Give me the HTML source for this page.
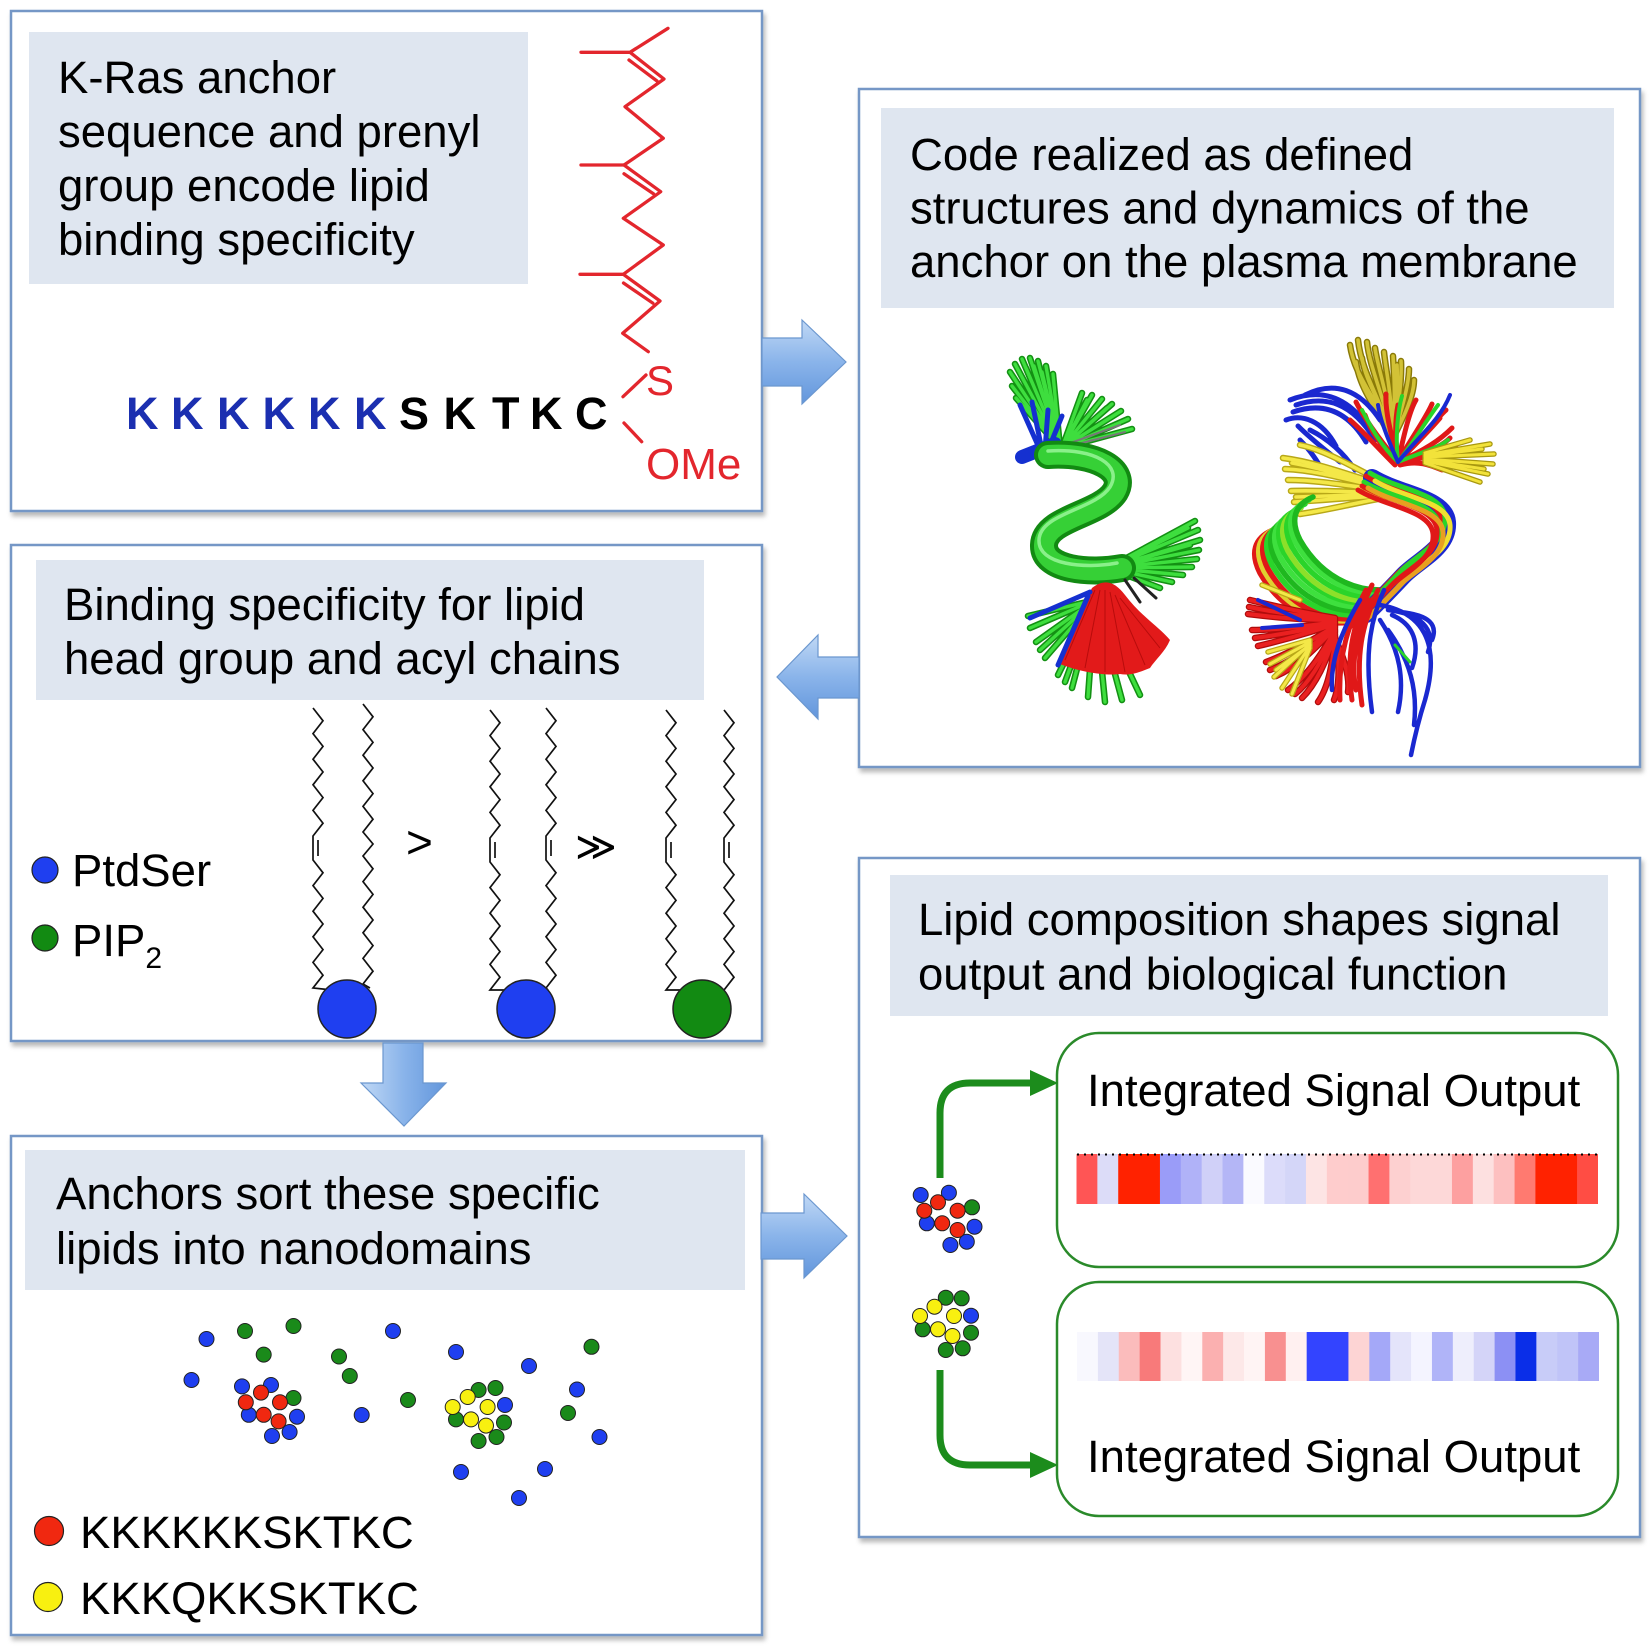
<!DOCTYPE html>
<html><head><meta charset="utf-8">
<style>
html,body{margin:0;padding:0;background:#fff;width:1649px;height:1649px;overflow:hidden;}
svg{display:block;}
text{font-family:"Liberation Sans",Arial,sans-serif;}
</style></head><body>
<svg width="1649" height="1649" viewBox="0 0 1649 1649" xmlns="http://www.w3.org/2000/svg">
<defs>
<filter id="sh" x="-5%" y="-5%" width="110%" height="110%"><feDropShadow dx="2" dy="4" stdDeviation="2.5" flood-color="#000" flood-opacity="0.28"/></filter>
<linearGradient id="ga" x1="0" y1="0" x2="0" y2="1"><stop offset="0" stop-color="#c0d8f5"/><stop offset="0.5" stop-color="#8ab4ea"/><stop offset="1" stop-color="#6296dc"/></linearGradient>
<linearGradient id="gd" x1="0" y1="0" x2="1" y2="0"><stop offset="0" stop-color="#c0d8f5"/><stop offset="0.5" stop-color="#8ab4ea"/><stop offset="1" stop-color="#6296dc"/></linearGradient>
</defs>

<!-- Boxes -->
<g fill="#fff" stroke="#7497c6" stroke-width="2.5" filter="url(#sh)">
<rect x="11" y="11" width="751" height="500"/>
<rect x="859" y="89" width="781" height="678"/>
<rect x="11" y="545" width="751" height="496"/>
<rect x="11" y="1136" width="751" height="499"/>
<rect x="859" y="858" width="781" height="679"/>
</g>

<!-- Title backgrounds -->
<g fill="#dfe6f0">
<rect x="29" y="32" width="499" height="252"/>
<rect x="881" y="108" width="733" height="200"/>
<rect x="36" y="560" width="668" height="140"/>
<rect x="25" y="1150" width="720" height="140"/>
<rect x="890" y="875" width="718" height="141"/>
</g>

<!-- Arrows -->
<g fill="url(#ga)" stroke="#6b97cf" stroke-width="1.2">
<path d="M762,338 L802,338 L802,320 L846,362 L802,404 L802,386 L762,386 Z"/>
<path d="M859,657 L818,657 L818,635 L777,677 L818,719 L818,698 L859,698 Z"/>
<path d="M761,1213 L804,1213 L804,1194 L847,1236 L804,1278 L804,1259 L761,1259 Z"/>
</g>
<path d="M383,1043 L423,1043 L423,1083 L446,1083 L404,1126 L361,1083 L383,1083 Z" fill="url(#gd)" stroke="#6b97cf" stroke-width="1.2"/>

<!-- Titles -->
<g font-size="45.5" fill="#000">
<text x="58" y="93">K-Ras anchor</text>
<text x="58" y="147">sequence and prenyl</text>
<text x="58" y="201">group encode lipid</text>
<text x="58" y="255">binding specificity</text>

<text x="910" y="170">Code realized as defined</text>
<text x="910" y="223.5">structures and dynamics of the</text>
<text x="910" y="277">anchor on the plasma membrane</text>

<text x="64" y="620">Binding specificity for lipid</text>
<text x="64" y="674">head group and acyl chains</text>

<text x="56" y="1209">Anchors sort these specific</text>
<text x="56" y="1264">lipids into nanodomains</text>

<text x="918" y="935">Lipid composition shapes signal</text>
<text x="918" y="989.5">output and biological function</text>
</g>

<!-- Prenyl chain -->
<g stroke="#e3262d" stroke-width="3.3" fill="none" stroke-linecap="round" stroke-linejoin="round">
<path d="M581,52.3 L630,52.3 L668,28.3 M630,52.3 L664,79 L625,106.7 L663.3,138.3 L624,165 L660.7,191.7 L623.3,218.3 L663.3,245 L623.3,274.3 L660,301 L622.7,333.3 L648.3,351.7"/>
<path d="M581,165 L624,165 M580,274.3 L623.3,274.3"/>
<path d="M629,60 L657,81 M624,173.8 L653.6,193.9 M623.5,283 L652.9,303.2"/>
<path d="M646,375 L623,396.7 M624,423 L641.7,441.7"/>
</g>
<text x="646" y="395" font-size="42" fill="#e3262d">S</text>
<text x="646" y="479" font-size="44" fill="#e3262d">OMe</text>

<!-- Sequence -->
<g font-size="45" font-weight="bold">
<g fill="#1b2fb0">
<text x="126" y="429">K</text><text x="171" y="429">K</text><text x="217" y="429">K</text><text x="262.5" y="429">K</text><text x="308" y="429">K</text><text x="354" y="429">K</text>
</g>
<g fill="#000">
<text x="399" y="429">S</text><text x="443.5" y="429">K</text><text x="492" y="429">T</text><text x="530" y="429">K</text><text x="575" y="429">C</text>
</g>
</g>

<!-- Lipid chains -->
<g stroke="#111" stroke-width="1.7" fill="none" stroke-linejoin="miter">
<path d="M313,708 l10,12.8 l-10,12.8 l10,12.8 l-10,12.8 l10,12.8 l-10,12.8 l10,12.8 l-10,12.8 l10,12.8 l-10,12.8 l0,24 l10,12.8 l-10,12.8 l10,12.8 l-10,12.8 l10,12.8 l-10,12.8 l10,12.8 l-10,12.8 l10,12.8 l-10,12.8 L332,990 M318,840 l0,16"/>
<path d="M363,704 l10,12.8 l-10,12.8 l10,12.8 l-10,12.8 l10,12.8 l-10,12.8 l10,12.8 l-10,12.8 l10,12.8 l-10,12.8 l10,12 l-10,12 l10,12.8 l-10,12.8 l10,12.8 l-10,12.8 l10,12.8 l-10,12.8 l10,12.8 l-10,12.8 l10,12.8 l-10,12.8 L370,988"/>
<path d="M490,710 l10,12.8 l-10,12.8 l10,12.8 l-10,12.8 l10,12.8 l-10,12.8 l10,12.8 l-10,12.8 l10,12.8 l-10,12.8 l0,24 l10,12.8 l-10,12.8 l10,12.8 l-10,12.8 l10,12.8 l-10,12.8 l10,12.8 l-10,12.8 l10,12.8 l-10,12.8 L510,990 M495,842 l0,16"/>
<path d="M546,708 l10,12.8 l-10,12.8 l10,12.8 l-10,12.8 l10,12.8 l-10,12.8 l10,12.8 l-10,12.8 l10,12.8 l-10,12.8 l0,24 l10,12.8 l-10,12.8 l10,12.8 l-10,12.8 l10,12.8 l-10,12.8 l10,12.8 l-10,12.8 l10,12.8 l-10,12.8 L548,990 M551,840 l0,16"/>
<path d="M666,710 l10,12.8 l-10,12.8 l10,12.8 l-10,12.8 l10,12.8 l-10,12.8 l10,12.8 l-10,12.8 l10,12.8 l-10,12.8 l0,24 l10,12.8 l-10,12.8 l10,12.8 l-10,12.8 l10,12.8 l-10,12.8 l10,12.8 l-10,12.8 l10,12.8 l-10,12.8 L684,990 M671,842 l0,16"/>
<path d="M724,710 l10,12.8 l-10,12.8 l10,12.8 l-10,12.8 l10,12.8 l-10,12.8 l10,12.8 l-10,12.8 l10,12.8 l-10,12.8 l0,24 l10,12.8 l-10,12.8 l10,12.8 l-10,12.8 l10,12.8 l-10,12.8 l10,12.8 l-10,12.8 l10,12.8 l-10,12.8 L722,990 M729,842 l0,16"/>
</g>
<g stroke="#222" stroke-width="1.5">
<circle cx="347" cy="1009" r="29" fill="#1f3ff0"/>
<circle cx="526" cy="1009" r="29" fill="#1f3ff0"/>
<circle cx="702" cy="1009" r="29" fill="#128a12"/>
</g>
<text x="406" y="858" font-size="46">&gt;</text>
<text x="575" y="860" font-size="40" font-family="DejaVu Sans, sans-serif">≫</text>

<!-- Legend box 3 -->
<circle cx="45" cy="870" r="13" fill="#1f3ff0" stroke="#222" stroke-width="1.2"/>
<circle cx="45" cy="938" r="13" fill="#128a12" stroke="#222" stroke-width="1.2"/>
<text x="72" y="886" font-size="45.5">PtdSer</text>
<text x="72" y="956" font-size="45.5">PIP<tspan font-size="30" dy="12">2</tspan></text>

<!-- Box 4 dots -->
<g stroke="#222" stroke-width="1">
<g fill="#1f3ff0">
<circle cx="206.5" cy="1339" r="7.5"/><circle cx="191.5" cy="1380" r="7.5"/><circle cx="393" cy="1331" r="7.5"/><circle cx="361.7" cy="1415" r="7.5"/><circle cx="456" cy="1352" r="7.5"/><circle cx="529" cy="1366" r="7.5"/><circle cx="577" cy="1389.5" r="7.5"/><circle cx="599.5" cy="1437" r="7.5"/><circle cx="461" cy="1472" r="7.5"/><circle cx="545" cy="1469" r="7.5"/><circle cx="519" cy="1498" r="7.5"/>
<circle cx="242" cy="1386.4" r="7.5"/><circle cx="271" cy="1385" r="7.5"/><circle cx="248.8" cy="1414.8" r="7.5"/><circle cx="297" cy="1416.7" r="7.5"/><circle cx="272" cy="1436" r="7.5"/><circle cx="289.6" cy="1432" r="7.5"/>
<circle cx="505" cy="1405" r="7.5"/>
</g>
<g fill="#1a8a1a">
<circle cx="245" cy="1331" r="7.5"/><circle cx="293.5" cy="1326" r="7.5"/><circle cx="263.7" cy="1354.6" r="7.5"/><circle cx="339" cy="1356.5" r="7.5"/><circle cx="349.8" cy="1376" r="7.5"/><circle cx="408" cy="1400" r="7.5"/><circle cx="591.5" cy="1346.8" r="7.5"/><circle cx="568" cy="1413" r="7.5"/>
<circle cx="293.5" cy="1398" r="7.5"/>
<circle cx="478.6" cy="1390" r="7.5"/><circle cx="495.5" cy="1388" r="7.5"/><circle cx="456" cy="1419.4" r="7.5"/><circle cx="504" cy="1422.5" r="7.5"/><circle cx="478.6" cy="1441" r="7.5"/><circle cx="496.5" cy="1437" r="7.5"/>
</g>
<g fill="#f02810">
<circle cx="261" cy="1392.6" r="7.5"/><circle cx="245.8" cy="1402.3" r="7.5"/><circle cx="280" cy="1402.3" r="7.5"/><circle cx="263.7" cy="1414.8" r="7.5"/><circle cx="278.6" cy="1421.4" r="7.5"/>
</g>
<g fill="#f8f010">
<circle cx="467.7" cy="1397" r="7.5"/><circle cx="452.7" cy="1407" r="7.5"/><circle cx="487.6" cy="1407" r="7.5"/><circle cx="471" cy="1419.4" r="7.5"/><circle cx="486" cy="1425.6" r="7.5"/>
</g>
</g>

<!-- Legend box 4 -->
<circle cx="49" cy="1531" r="14.5" fill="#f02810" stroke="#222" stroke-width="1.2"/>
<circle cx="48" cy="1597" r="14.5" fill="#f8f010" stroke="#222" stroke-width="1.2"/>
<text x="80" y="1548" font-size="45.5">KKKKKKSKTKC</text>
<text x="80" y="1614" font-size="45.5">KKKQKKSKTKC</text>

<!-- Box 5 -->
<g fill="none" stroke="#2a8a2a" stroke-width="2.5">
<rect x="1057" y="1033" width="561" height="234" rx="42"/>
<rect x="1057" y="1282" width="561" height="234" rx="42"/>
</g>
<g fill="none" stroke="#1c8c1c" stroke-width="7">
<path d="M940,1178 L940,1113 Q940,1083 970,1083 L1036,1083"/>
<path d="M940,1370 L940,1435 Q940,1465 970,1465 L1036,1465"/>
</g>
<g fill="#1c8c1c">
<polygon points="1030,1070 1058,1083 1030,1096"/>
<polygon points="1030,1452 1058,1465 1030,1478"/>
</g>
<text x="1087" y="1106" font-size="45.5">Integrated Signal Output</text>
<text x="1087" y="1472" font-size="45.5">Integrated Signal Output</text>

<!-- heatmap 1 -->
<g>
<rect x="1076.5" y="1154" width="21.2" height="50" fill="#ff5555"/>
<rect x="1097.36" y="1154" width="21.2" height="50" fill="#dcdcf8"/>
<rect x="1118.22" y="1154" width="42" height="50" fill="#ff2200"/>
<rect x="1159.94" y="1154" width="21.2" height="50" fill="#9a9cf8"/>
<rect x="1180.8" y="1154" width="21.2" height="50" fill="#b0b2f8"/>
<rect x="1201.66" y="1154" width="21.2" height="50" fill="#d0d0f8"/>
<rect x="1222.52" y="1154" width="21.2" height="50" fill="#b4b6f6"/>
<rect x="1243.38" y="1154" width="21.2" height="50" fill="#fafaff"/>
<rect x="1264.24" y="1154" width="21.2" height="50" fill="#dcdcfa"/>
<rect x="1285.1" y="1154" width="21.2" height="50" fill="#d4d6f8"/>
<rect x="1305.96" y="1154" width="21.2" height="50" fill="#fde4e4"/>
<rect x="1326.82" y="1154" width="21.2" height="50" fill="#fecccc"/>
<rect x="1347.68" y="1154" width="21.2" height="50" fill="#fdcccc"/>
<rect x="1368.54" y="1154" width="21.2" height="50" fill="#ff7070"/>
<rect x="1389.4" y="1154" width="21.2" height="50" fill="#fdd0d0"/>
<rect x="1410.26" y="1154" width="21.2" height="50" fill="#fdd8d8"/>
<rect x="1431.12" y="1154" width="21.2" height="50" fill="#fdd8d8"/>
<rect x="1451.98" y="1154" width="21.2" height="50" fill="#fda0a0"/>
<rect x="1472.84" y="1154" width="21.2" height="50" fill="#fde0e0"/>
<rect x="1493.7" y="1154" width="21.2" height="50" fill="#fdc0c0"/>
<rect x="1514.56" y="1154" width="21.2" height="50" fill="#ff7a70"/>
<rect x="1535.42" y="1154" width="42" height="50" fill="#ff2200"/>
<rect x="1577.14" y="1154" width="20.86" height="50" fill="#ff4d44"/>
</g>
<line x1="1077" y1="1154.5" x2="1597" y2="1154.5" stroke="#000" stroke-width="2" stroke-dasharray="2 5"/>

<!-- heatmap 2 -->
<g>
<rect x="1077" y="1332" width="21.2" height="49" fill="#f8f8fe"/>
<rect x="1097.88" y="1332" width="21.2" height="49" fill="#e4e4f8"/>
<rect x="1118.76" y="1332" width="21.2" height="49" fill="#fbbcbc"/>
<rect x="1139.64" y="1332" width="21.2" height="49" fill="#f87a7a"/>
<rect x="1160.52" y="1332" width="21.2" height="49" fill="#fde0e0"/>
<rect x="1181.4" y="1332" width="21.2" height="49" fill="#fff5f5"/>
<rect x="1202.28" y="1332" width="21.2" height="49" fill="#fbb0b0"/>
<rect x="1223.16" y="1332" width="21.2" height="49" fill="#fde8e8"/>
<rect x="1244.04" y="1332" width="21.2" height="49" fill="#fff4f4"/>
<rect x="1264.92" y="1332" width="21.2" height="49" fill="#f89090"/>
<rect x="1285.8" y="1332" width="21.2" height="49" fill="#fff0f0"/>
<rect x="1306.68" y="1332" width="42" height="49" fill="#3344ff"/>
<rect x="1348.44" y="1332" width="21.2" height="49" fill="#fdd4d4"/>
<rect x="1369.32" y="1332" width="21.2" height="49" fill="#a4a8f8"/>
<rect x="1390.2" y="1332" width="21.2" height="49" fill="#e4e4fa"/>
<rect x="1411.08" y="1332" width="21.2" height="49" fill="#f4f4ff"/>
<rect x="1431.96" y="1332" width="21.2" height="49" fill="#b0b4f8"/>
<rect x="1452.84" y="1332" width="21.2" height="49" fill="#eeeefc"/>
<rect x="1473.72" y="1332" width="21.2" height="49" fill="#d4d4f8"/>
<rect x="1494.6" y="1332" width="21.2" height="49" fill="#8c90f4"/>
<rect x="1515.48" y="1332" width="21.2" height="49" fill="#0a2ee8"/>
<rect x="1536.36" y="1332" width="21.2" height="49" fill="#c8ccf8"/>
<rect x="1557.24" y="1332" width="21.2" height="49" fill="#c0c4f8"/>
<rect x="1578.12" y="1332" width="20.88" height="49" fill="#a8aaf6"/>
</g>

<!-- Box 5 clusters -->
<g stroke="#222" stroke-width="1">
<g fill="#1f3ff0">
<circle cx="920.7" cy="1195" r="7.5"/><circle cx="948.9" cy="1192.7" r="7.5"/><circle cx="926.8" cy="1223.3" r="7.5"/><circle cx="974.5" cy="1226.7" r="7.5"/><circle cx="950.4" cy="1245" r="7.5"/><circle cx="966.8" cy="1241.7" r="7.5"/>
<circle cx="971" cy="1315.7" r="7.5"/>
</g>
<g fill="#1a8a1a">
<circle cx="972" cy="1207.3" r="7.5"/>
<circle cx="945.8" cy="1297.7" r="7.5"/><circle cx="961.7" cy="1298.3" r="7.5"/><circle cx="922.7" cy="1329.3" r="7.5"/><circle cx="971" cy="1332.7" r="7.5"/><circle cx="945.8" cy="1350" r="7.5"/><circle cx="962.7" cy="1348.3" r="7.5"/>
</g>
<g fill="#f02810">
<circle cx="938" cy="1202.3" r="7.5"/><circle cx="924.3" cy="1210.7" r="7.5"/><circle cx="957.6" cy="1210.7" r="7.5"/><circle cx="942.2" cy="1223.3" r="7.5"/><circle cx="957.6" cy="1230" r="7.5"/>
</g>
<g fill="#f8f010">
<circle cx="934.5" cy="1306.7" r="7.5"/><circle cx="920" cy="1316" r="7.5"/><circle cx="954" cy="1316" r="7.5"/><circle cx="938" cy="1329.3" r="7.5"/><circle cx="952.5" cy="1336" r="7.5"/>
</g>
</g>

<!-- Left protein structure -->
<g fill="none" stroke-linecap="round">
<g stroke="#139013" stroke-width="6.5">
<path d="M1060,448 L1010,372 M1060,448 L1015,364 M1060,448 L1022,359 M1060,448 L1030,358 M1060,448 L1038,361 M1060,448 L1046,366 M1060,448 L1053,374 M1060,448 L1012,386 M1060,448 L1016,398 M1060,448 L1026,368 M1060,448 L1034,366 M1060,448 L1042,372 M1062,448 L1082,393 M1062,448 L1092,395 M1062,448 L1102,399 M1062,448 L1112,404 M1062,448 L1121,411 M1062,448 L1128,419 M1062,448 L1132,429 M1062,448 L1087,400 M1062,448 L1107,408"/>
<path d="M1108,568 L1195,521 M1108,568 L1198,530 M1108,568 L1200,540 M1108,568 L1199,550 M1108,568 L1197,559 M1108,568 L1192,567 M1108,568 L1183,575 M1108,568 L1172,582 M1108,568 L1160,588 M1108,568 L1188,528 M1108,568 L1190,545"/>
<path d="M1095,600 L1028,616 M1095,600 L1030,628 M1095,600 L1036,642 M1095,600 L1045,658 M1095,600 L1058,675 M1095,600 L1072,688 M1095,600 L1088,697 M1095,600 L1105,702 M1095,600 L1122,700 M1095,600 L1140,695 M1095,600 L1040,650 M1095,600 L1065,682"/>
</g>
<g stroke="#3ede3e" stroke-width="3.4">
<path d="M1060,448 L1010,372 M1060,448 L1015,364 M1060,448 L1022,359 M1060,448 L1030,358 M1060,448 L1038,361 M1060,448 L1046,366 M1060,448 L1053,374 M1060,448 L1012,386 M1060,448 L1016,398 M1060,448 L1026,368 M1060,448 L1034,366 M1060,448 L1042,372 M1062,448 L1082,393 M1062,448 L1092,395 M1062,448 L1102,399 M1062,448 L1112,404 M1062,448 L1121,411 M1062,448 L1128,419 M1062,448 L1132,429 M1062,448 L1087,400 M1062,448 L1107,408"/>
<path d="M1108,568 L1195,521 M1108,568 L1198,530 M1108,568 L1200,540 M1108,568 L1199,550 M1108,568 L1197,559 M1108,568 L1192,567 M1108,568 L1183,575 M1108,568 L1172,582 M1108,568 L1160,588 M1108,568 L1188,528 M1108,568 L1190,545"/>
<path d="M1095,600 L1028,616 M1095,600 L1030,628 M1095,600 L1036,642 M1095,600 L1045,658 M1095,600 L1058,675 M1095,600 L1072,688 M1095,600 L1088,697 M1095,600 L1105,702 M1095,600 L1122,700 M1095,600 L1140,695 M1095,600 L1040,650 M1095,600 L1065,682"/>
</g>
<path d="M1065,445 L1120,425 M1066,447 L1125,432" stroke="#777" stroke-width="2"/>
<path d="M1040,450 L1020,405 M1042,450 L1032,402 M1045,450 L1048,410 M1048,450 L1062,416" stroke="#1530d0" stroke-width="5"/>
<path d="M1022,457 L1055,444" stroke="#1530d0" stroke-width="14"/>
<path d="M1048,455 C1095,452 1128,470 1115,492 C1100,515 1045,518 1044,545 C1043,570 1090,574 1122,568" stroke="#128a12" stroke-width="28"/>
<path d="M1048,455 C1095,452 1128,470 1115,492 C1100,515 1045,518 1044,545 C1043,570 1090,574 1122,568" stroke="#36d036" stroke-width="20"/>
<path d="M1048,451 C1095,448 1123,465 1110,487 C1095,510 1040,513 1039,540 C1038,565 1085,569 1117,563" stroke="#8af08a" stroke-width="3.5"/>
<path d="M1125,580 L1140,602 M1134,578 L1156,598 M1118,590 L1128,612" stroke="#222" stroke-width="3"/>
</g>
<path d="M1092,588 C1105,578 1115,582 1125,595 C1140,615 1160,628 1170,640 C1165,652 1155,660 1150,668 C1140,672 1130,676 1120,674 C1105,676 1080,672 1060,664 C1068,640 1080,610 1092,588 Z" fill="#e21a1a"/>
<path d="M1095,590 L1065,660 M1100,590 L1085,668 M1105,590 L1105,672 M1110,592 L1125,672 M1115,595 L1145,665 M1120,598 L1160,648" stroke="#b80c0c" stroke-width="1" fill="none"/>
<path d="M1090,592 L1030,618 M1088,596 L1058,665" stroke="#1530d0" stroke-width="5" fill="none" stroke-linecap="round"/>

<!-- Right protein structure -->
<g fill="none" stroke-linecap="round">
<path d="M1392,440 C1380,400 1355,380 1350,345 M1392,440 C1382,400 1362,375 1358,340 M1392,440 C1386,400 1370,370 1367,342 M1392,440 C1390,400 1378,370 1375,348 M1392,440 C1393,400 1386,372 1384,352 M1392,440 C1396,400 1394,375 1393,356 M1392,440 C1399,405 1402,380 1401,361 M1392,440 C1402,410 1409,385 1409,369 M1392,440 C1405,415 1414,395 1414,380 M1392,440 C1378,410 1360,390 1356,362 M1392,440 C1384,405 1366,385 1362,358 M1392,440 C1397,410 1398,385 1397,365" stroke="#8a7a08" stroke-width="6.5"/>
<path d="M1392,440 C1380,400 1355,380 1350,345 M1392,440 C1382,400 1362,375 1358,340 M1392,440 C1386,400 1370,370 1367,342 M1392,440 C1390,400 1378,370 1375,348 M1392,440 C1393,400 1386,372 1384,352 M1392,440 C1396,400 1394,375 1393,356 M1392,440 C1399,405 1402,380 1401,361 M1392,440 C1402,410 1409,385 1409,369 M1392,440 C1405,415 1414,395 1414,380 M1392,440 C1378,410 1360,390 1356,362 M1392,440 C1384,405 1366,385 1362,358 M1392,440 C1397,410 1398,385 1397,365" stroke="#d2c236" stroke-width="3.6"/>
<path d="M1290,400 C1320,388 1348,395 1372,432 M1293,412 C1322,402 1347,410 1366,442 M1298,426 C1312,440 1328,452 1340,462 M1286,420 C1302,414 1322,420 1336,446 M1305,395 C1335,380 1360,390 1380,420 M1300,440 C1310,450 1318,462 1322,470 M1296,405 C1325,395 1352,402 1375,440 M1310,430 C1330,440 1345,455 1355,470" stroke="#1a28d0" stroke-width="5"/>
<path d="M1398,462 C1380,440 1365,420 1356,402 M1398,462 C1390,430 1385,410 1386,394 M1398,462 C1405,430 1410,410 1416,400 M1398,462 C1420,440 1435,420 1446,410 M1398,462 C1425,450 1440,440 1452,428 M1398,462 C1425,458 1445,455 1456,445 M1398,462 C1410,440 1425,420 1432,404 M1395,465 C1375,445 1362,430 1350,420 M1398,462 C1395,440 1395,420 1398,405 M1398,462 C1415,445 1430,430 1440,418 M1398,462 C1420,455 1440,448 1450,438 M1398,462 C1385,450 1372,435 1365,415 M1400,465 C1418,460 1430,465 1442,470" stroke="#e01818" stroke-width="5"/>
<path d="M1398,462 C1395,435 1398,410 1402,396 M1398,462 C1415,440 1428,418 1438,405 M1398,462 C1380,445 1370,425 1362,410 M1398,462 C1422,452 1438,448 1448,440" stroke="#2ad42a" stroke-width="4"/>
<path d="M1398,462 C1420,435 1440,420 1450,395 M1398,462 C1388,440 1380,420 1378,405" stroke="#1a28d0" stroke-width="4"/>
<path d="M1425,455 L1490,444 M1425,457 L1494,454 M1425,459 L1493,464 M1425,461 L1488,474 M1425,463 L1480,482 M1425,453 L1470,440 M1425,456 L1482,449 M1425,460 L1484,469" stroke="#a89810" stroke-width="5.5"/>
<path d="M1425,455 L1490,444 M1425,457 L1494,454 M1425,459 L1493,464 M1425,461 L1488,474 M1425,463 L1480,482 M1425,453 L1470,440 M1425,456 L1482,449 M1425,460 L1484,469" stroke="#f2e23a" stroke-width="3"/>
<path d="M1388,487 C1350,475 1315,462 1283,458 M1388,489 C1350,480 1315,470 1285,469 M1388,491 C1350,486 1318,480 1288,480 M1388,493 C1350,492 1320,490 1291,491 M1388,495 C1352,498 1322,500 1294,502 M1388,497 C1355,503 1328,510 1300,514 M1388,485 C1355,468 1325,450 1300,445 M1388,488 C1352,478 1320,468 1292,463 M1388,494 C1352,495 1322,496 1296,497" stroke="#b8a818" stroke-width="6.5"/>
<path d="M1388,487 C1350,475 1315,462 1283,458 M1388,489 C1350,480 1315,470 1285,469 M1388,491 C1350,486 1318,480 1288,480 M1388,493 C1350,492 1320,490 1291,491 M1388,495 C1352,498 1322,500 1294,502 M1388,497 C1355,503 1328,510 1300,514 M1388,485 C1355,468 1325,450 1300,445 M1388,488 C1352,478 1320,468 1292,463 M1388,494 C1352,495 1322,496 1296,497" stroke="#f4e848" stroke-width="3.6"/>
<!-- ring left green -->
<g stroke-width="5.5">
<path transform="translate(-12,8)" d="M1372,612 C1335,622 1295,605 1272,565 C1262,545 1266,530 1285,522" stroke="#e01818"/>
<path transform="translate(-8,6)" d="M1372,612 C1335,622 1295,605 1272,565 C1262,545 1266,530 1285,522" stroke="#e0d030"/>
<path transform="translate(-4,4)" d="M1372,612 C1335,622 1295,605 1272,565 C1262,545 1266,530 1285,522" stroke="#e01818"/>
<path d="M1372,612 C1335,622 1295,605 1272,565 C1262,545 1266,530 1285,522" stroke="#2ad42a"/>
<path transform="translate(4,-4)" d="M1372,612 C1335,622 1295,605 1272,565 C1262,545 1266,530 1285,522" stroke="#1fb81f"/>
<path transform="translate(8,-8)" d="M1372,612 C1335,622 1295,605 1272,565 C1262,545 1266,530 1285,522" stroke="#3ee03e"/>
<path transform="translate(12,-12)" d="M1372,612 C1335,622 1295,605 1272,565 C1262,545 1266,530 1285,522" stroke="#2ad42a"/>
<path transform="translate(16,-14)" d="M1372,612 C1335,622 1295,605 1272,565 C1262,545 1266,530 1285,522" stroke="#8ce02a"/>
<path transform="translate(20,-18)" d="M1372,612 C1335,622 1295,605 1272,565 C1262,545 1266,530 1285,522" stroke="#2ad42a"/>
<path transform="translate(24,-22)" d="M1372,612 C1335,622 1295,605 1272,565 C1262,545 1266,530 1285,522" stroke="#3ee03e"/>
<path transform="translate(28,-25)" d="M1372,612 C1335,622 1295,605 1272,565 C1262,545 1266,530 1285,522" stroke="#1fb81f"/>
</g>
<!-- lower-left red mass -->
<path d="M1335,618 C1300,612 1270,605 1250,600 M1335,620 C1295,620 1265,616 1248,614 M1335,622 C1295,628 1268,630 1252,630 M1335,624 C1300,636 1275,642 1258,646 M1335,626 C1305,645 1285,655 1266,662 M1335,628 C1312,652 1295,668 1276,676 M1335,630 C1320,658 1305,678 1288,690 M1335,632 C1327,662 1315,685 1302,698 M1335,634 C1333,665 1328,688 1318,702 M1335,636 C1340,664 1340,685 1334,700 M1335,638 C1345,660 1350,678 1348,692 M1335,619 C1298,616 1268,611 1249,607 M1335,623 C1298,632 1270,636 1255,638 M1335,627 C1308,650 1290,662 1270,670 M1335,631 C1323,660 1310,682 1295,694" stroke="#b00c0c" stroke-width="6.5"/>
<path d="M1335,618 C1300,612 1270,605 1250,600 M1335,620 C1295,620 1265,616 1248,614 M1335,622 C1295,628 1268,630 1252,630 M1335,624 C1300,636 1275,642 1258,646 M1335,626 C1305,645 1285,655 1266,662 M1335,628 C1312,652 1295,668 1276,676 M1335,630 C1320,658 1305,678 1288,690 M1335,632 C1327,662 1315,685 1302,698 M1335,634 C1333,665 1328,688 1318,702 M1335,636 C1340,664 1340,685 1334,700 M1335,638 C1345,660 1350,678 1348,692 M1335,619 C1298,616 1268,611 1249,607 M1335,623 C1298,632 1270,636 1255,638 M1335,627 C1308,650 1290,662 1270,670 M1335,631 C1323,660 1310,682 1295,694" stroke="#ea2020" stroke-width="4"/>
<path d="M1310,640 L1268,652 M1310,642 L1270,664 M1310,644 L1274,677 M1310,646 L1282,688 M1310,648 L1292,694 M1300,600 L1262,585 M1310,645 L1276,670" stroke="#b8a818" stroke-width="5.5"/>
<path d="M1310,640 L1268,652 M1310,642 L1270,664 M1310,644 L1274,677 M1310,646 L1282,688 M1310,648 L1292,694 M1300,600 L1262,585 M1310,645 L1276,670" stroke="#f4e848" stroke-width="3"/>
<path d="M1300,620 L1258,600 M1302,625 L1262,628" stroke="#1a28d0" stroke-width="4"/>
<!-- central helix bundle -->
<g stroke-width="5">
<path d="M1372,478 C1400,495 1445,498 1447,522 C1449,548 1418,560 1403,576 C1390,590 1378,602 1366,614" stroke="#1a28d0" stroke-width="18"/>
<path transform="translate(-6,-2)" d="M1372,478 C1400,495 1445,498 1447,522 C1449,548 1418,560 1403,576 C1390,590 1378,602 1366,614" stroke="#e01818"/>
<path transform="translate(-2,-5)" d="M1372,478 C1400,495 1445,498 1447,522 C1449,548 1418,560 1403,576 C1390,590 1378,602 1366,614" stroke="#2ad42a"/>
<path transform="translate(3,3)" d="M1372,478 C1400,495 1445,498 1447,522 C1449,548 1418,560 1403,576 C1390,590 1378,602 1366,614" stroke="#f0e030"/>
<path transform="translate(-8,4)" d="M1372,478 C1400,495 1445,498 1447,522 C1449,548 1418,560 1403,576 C1390,590 1378,602 1366,614" stroke="#2ad42a"/>
<path transform="translate(-10,8)" d="M1372,478 C1400,495 1445,498 1447,522 C1449,548 1418,560 1403,576 C1390,590 1378,602 1366,614" stroke="#e01818"/>
<path transform="translate(-4,10)" d="M1372,478 C1400,495 1445,498 1447,522 C1449,548 1418,560 1403,576 C1390,590 1378,602 1366,614" stroke="#e8a020"/>
<path transform="translate(-14,12)" d="M1372,478 C1400,495 1445,498 1447,522 C1449,548 1418,560 1403,576 C1390,590 1378,602 1366,614" stroke="#e01818"/>
</g>
<!-- lower middle bundle -->
<path d="M1372,585 C1355,620 1345,650 1352,700 M1378,590 C1362,625 1355,655 1362,705 M1366,590 C1348,625 1338,655 1340,700 M1370,600 C1358,630 1350,660 1356,690" stroke="#e01818" stroke-width="5"/>
<path d="M1384,590 C1368,625 1365,660 1372,712 M1360,600 C1342,630 1330,660 1332,690" stroke="#1a28d0" stroke-width="4.5"/>
<!-- blue tails right -->
<path d="M1380,605 C1420,612 1442,640 1425,700 C1418,722 1414,740 1411,755 M1388,610 C1420,614 1436,628 1428,652 M1392,615 C1415,625 1420,645 1412,668 M1380,620 C1400,650 1405,680 1398,712 M1400,612 C1430,615 1438,625 1432,640 M1388,630 C1410,660 1418,690 1414,725" stroke="#1a28d0" stroke-width="4.5"/>
<path d="M1395,645 L1410,662" stroke="#2ad42a" stroke-width="3"/>
</g>
</svg>
</body></html>
